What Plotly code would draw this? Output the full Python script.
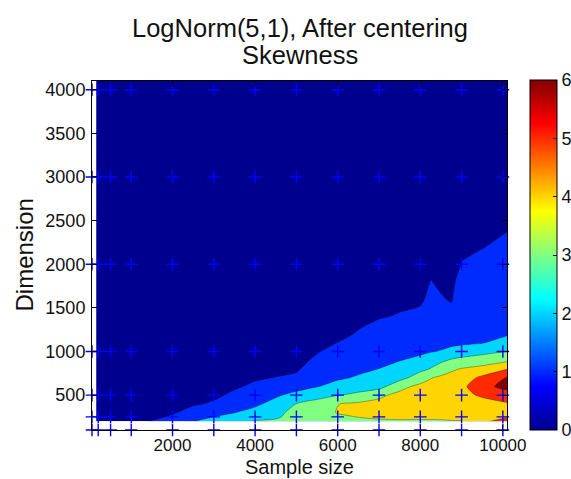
import plotly.graph_objects as go

# Sample sizes / dimensions at which skewness was evaluated (contour grid)
sample_sizes = [150, 1000, 1500, 2000, 2500, 3000, 3500, 4000, 4500, 5000, 5500,
                6000, 6500, 7000, 7500, 8000, 8250, 8500, 8750, 9000, 9500, 10100]
dimensions = [200, 250, 300, 400, 500, 600, 700, 800, 900, 1000, 1100, 1200,
              1400, 1600, 1800, 2000, 2200, 2400, 3000, 4100]

# Skewness, one list per sample size (values ordered by dimension)
skew_by_sample_size = [
    [0.40, 0.38, 0.35, 0.32, 0.30, 0.28, 0.26, 0.25, 0.24, 0.22, 0.21, 0.20, 0.19, 0.18, 0.17, 0.16, 0.15, 0.15, 0.12, 0.10],
    [0.75, 0.60, 0.50, 0.40, 0.35, 0.30, 0.28, 0.26, 0.25, 0.24, 0.22, 0.21, 0.20, 0.18, 0.17, 0.16, 0.15, 0.14, 0.12, 0.10],
    [1.05, 0.80, 0.65, 0.50, 0.40, 0.35, 0.30, 0.30, 0.25, 0.25, 0.22, 0.20, 0.20, 0.15, 0.15, 0.15, 0.12, 0.12, 0.10, 0.10],
    [1.50, 1.12, 0.90, 0.65, 0.50, 0.45, 0.40, 0.35, 0.30, 0.30, 0.25, 0.25, 0.20, 0.20, 0.20, 0.15, 0.15, 0.15, 0.12, 0.10],
    [1.98, 1.65, 1.35, 0.90, 0.70, 0.60, 0.50, 0.45, 0.40, 0.35, 0.30, 0.30, 0.25, 0.25, 0.20, 0.20, 0.20, 0.15, 0.15, 0.12],
    [2.35, 2.02, 1.75, 1.10, 0.85, 0.70, 0.60, 0.50, 0.45, 0.40, 0.35, 0.30, 0.30, 0.25, 0.25, 0.20, 0.20, 0.20, 0.15, 0.12],
    [2.75, 2.40, 1.98, 1.55, 1.15, 0.90, 0.75, 0.60, 0.50, 0.45, 0.40, 0.35, 0.30, 0.30, 0.25, 0.25, 0.20, 0.20, 0.15, 0.15],
    [3.05, 2.70, 2.35, 1.80, 1.45, 1.15, 0.90, 0.70, 0.60, 0.50, 0.45, 0.40, 0.35, 0.30, 0.30, 0.25, 0.25, 0.20, 0.18, 0.15],
    [3.15, 2.85, 2.75, 2.35, 1.85, 1.35, 1.02, 0.80, 0.65, 0.55, 0.50, 0.45, 0.40, 0.35, 0.30, 0.30, 0.25, 0.25, 0.20, 0.15],
    [3.45, 3.40, 3.30, 3.02, 2.30, 1.60, 1.15, 0.90, 0.75, 0.65, 0.55, 0.50, 0.45, 0.40, 0.35, 0.30, 0.30, 0.25, 0.20, 0.15],
    [3.55, 3.60, 3.60, 3.30, 2.70, 1.95, 1.60, 1.40, 1.15, 0.95, 0.80, 0.70, 0.60, 0.50, 0.45, 0.40, 0.35, 0.30, 0.20, 0.15],
    [3.70, 3.85, 4.05, 3.98, 2.95, 2.35, 1.85, 1.65, 1.45, 1.25, 1.01, 0.85, 0.70, 0.60, 0.50, 0.45, 0.40, 0.35, 0.25, 0.20],
    [3.80, 4.02, 4.10, 4.15, 3.20, 2.60, 2.10, 1.80, 1.60, 1.45, 1.30, 1.05, 0.85, 0.70, 0.60, 0.50, 0.45, 0.40, 0.25, 0.20],
    [3.85, 4.15, 4.10, 4.20, 3.85, 2.60, 2.40, 2.01, 1.80, 1.65, 1.50, 1.30, 0.95, 0.80, 0.65, 0.55, 0.50, 0.40, 0.30, 0.20],
    [3.88, 4.20, 4.10, 4.15, 4.20, 3.75, 2.60, 2.30, 1.97, 1.80, 1.60, 1.45, 1.05, 0.85, 0.70, 0.60, 0.50, 0.45, 0.30, 0.20],
    [3.90, 4.15, 4.15, 4.20, 4.20, 4.20, 3.55, 2.70, 2.20, 1.85, 1.65, 1.45, 1.15, 0.90, 0.75, 0.65, 0.55, 0.50, 0.30, 0.20],
    [3.90, 4.15, 4.15, 4.25, 4.30, 4.25, 3.95, 3.05, 2.50, 1.95, 1.70, 1.55, 1.35, 1.15, 1.02, 0.80, 0.65, 0.55, 0.35, 0.25],
    [3.92, 4.15, 4.20, 4.30, 4.35, 4.35, 4.15, 3.50, 2.80, 2.05, 1.75, 1.55, 1.30, 1.05, 0.90, 0.75, 0.65, 0.55, 0.35, 0.25],
    [3.95, 4.20, 4.25, 4.35, 4.50, 4.55, 4.30, 3.85, 3.10, 2.25, 1.80, 1.60, 1.20, 0.95, 0.85, 0.75, 0.65, 0.55, 0.35, 0.25],
    [3.97, 4.20, 4.30, 4.45, 4.70, 4.75, 4.50, 4.05, 3.30, 2.40, 1.85, 1.75, 1.55, 1.40, 1.25, 1.02, 0.90, 0.80, 0.40, 0.25],
    [4.80, 4.60, 4.40, 4.60, 5.15, 5.70, 5.20, 4.30, 3.50, 2.70, 1.95, 1.75, 1.60, 1.45, 1.30, 1.15, 0.98, 0.85, 0.45, 0.30],
    [5.40, 4.95, 4.60, 4.90, 5.60, 6.30, 6.05, 4.95, 3.80, 3.01, 2.40, 1.90, 1.70, 1.50, 1.35, 1.25, 1.12, 0.98, 0.50, 0.30],
]

# Simulation design points shown as crosses
design_n = [50, 200, 500, 1000, 2000, 3000, 4000, 5000, 6000, 7000, 8000, 9000, 10000]
design_p = [100, 250, 500, 1000, 2000, 3000, 4000]

x_ticks = [2000, 4000, 6000, 8000, 10000]
y_ticks = [500, 1000, 1500, 2000, 2500, 3000, 3500, 4000]
cbar_ticks = [0, 1, 2, 3, 4, 5, 6]

jet = [[0.0, "#00008F"], [0.125, "#0000FF"], [0.375, "#00FFFF"],
       [0.625, "#FFFF00"], [0.875, "#FF0000"], [1.0, "#800000"]]

FONT = "Liberation Sans, Arial, sans-serif"

# z indexed [dimension][sample size]
z = [[col[i] for col in skew_by_sample_size] for i in range(len(dimensions))]

fig = go.Figure()
fig.add_trace(go.Contour(
    x=sample_sizes, y=dimensions, z=z,
    colorscale=jet,
    contours=dict(start=1, end=6, size=1, coloring="fill"),
    line=dict(color="rgba(0,0,0,0.55)", width=0.6, smoothing=0.6),
    showscale=False, hoverinfo="skip",
))

px_n = [n for p in design_p for n in design_n]
px_p = [p for p in design_p for n in design_n]
fig.add_trace(go.Scatter(
    x=px_n, y=px_p, mode="markers", cliponaxis=False,
    marker=dict(symbol="cross-thin", size=9,
                line=dict(color="#0000FF", width=1.4)),
    showlegend=False, hoverinfo="skip",
))

# continuous colour bar 0..6
fig.add_trace(go.Scatter(
    x=[None], y=[None], mode="markers", showlegend=False,
    marker=dict(color=[0], cmin=0, cmax=6, colorscale=jet, showscale=True,
                colorbar=dict(
                    x=(530 - 92) / 415, xanchor="left", xpad=0,
                    y=0, yanchor="bottom", ypad=0,
                    len=350, lenmode="pixels",
                    thickness=27, thicknessmode="pixels",
                    outlinecolor="black", outlinewidth=1,
                    tickvals=cbar_ticks, ticks="inside", ticklen=4,
                    tickcolor="black",
                    tickfont=dict(size=18, color="#111", family=FONT),
                )),
))

axis_common = dict(
    showline=True, linecolor="black", linewidth=1, mirror="ticks",
    ticks="inside", ticklen=5, tickcolor="black", showgrid=False,
    zeroline=False, tickformat="d",
)

fig.update_layout(
    width=571, height=479,
    margin=dict(l=92, r=64, t=81, b=49, autoexpand=False),
    paper_bgcolor="white", plot_bgcolor="white",
    font=dict(family=FONT, color="#111"),
    xaxis=dict(range=[50, 10100], tickvals=x_ticks, ticklabelstandoff=0,
               tickfont=dict(size=17, color="#111", family=FONT), **axis_common),
    yaxis=dict(range=[100, 4100], tickvals=y_ticks, ticklabelstandoff=2,
               tickfont=dict(size=18, color="#111", family=FONT), **axis_common),
    showlegend=False,
    annotations=[
        dict(text="LogNorm(5,1), After centering", x=0.5, y=(430 - 28) / 349,
             xref="paper", yref="paper", xanchor="center", yanchor="middle",
             showarrow=False, font=dict(size=25.5)),
        dict(text="Skewness", x=0.5, y=(430 - 55) / 349,
             xref="paper", yref="paper", xanchor="center", yanchor="middle",
             showarrow=False, font=dict(size=25.5)),
        dict(text="Sample size", x=0.5, y=(430 - 479) / 349,
             xref="paper", yref="paper", xanchor="center", yanchor="bottom",
             showarrow=False, font=dict(size=20), borderpad=0),
        dict(text="Dimension", x=(24 - 92) / 415, y=0.5, textangle=-90,
             xref="paper", yref="paper", xanchor="center", yanchor="middle",
             showarrow=False, font=dict(size=24)),
    ],
)

fig.write_html("out.html")
